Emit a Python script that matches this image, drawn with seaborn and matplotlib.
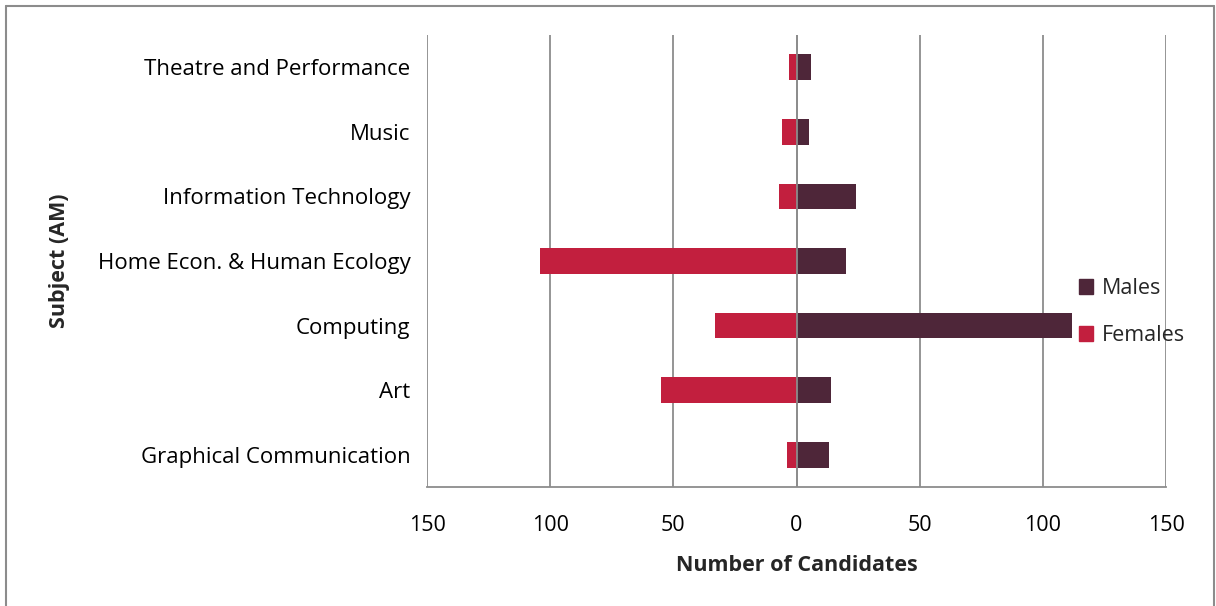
import seaborn as sns
import matplotlib.pyplot as plt
import matplotlib.ticker as mticker
from matplotlib.lines import Line2D
from matplotlib.patches import Patch
import pandas as pd

# dados (de cima para baixo)
subjects = ['Theatre and Performance', 'Music', 'Information Technology',
            'Home Econ. & Human Ecology', 'Computing', 'Art',
            'Graphical Communication']
males = [6, 5, 24, 20, 112, 14, 13]
females = [3, 6, 7, 104, 33, 55, 4]

cor_m = '#4E2639'
cor_f = '#C21F3E'

sns.set_theme(style='white')
plt.rcParams['font.family'] = ['Open Sans', 'DejaVu Sans']

df = pd.DataFrame({'subject': subjects, 'Males': males,
                   'Females': [-v for v in females]})

fig = plt.figure(figsize=(12.16, 6.06), dpi=100)
ax = fig.add_axes([427 / 1216, 1 - 487 / 606, (1166 - 427) / 1216, (487 - 35) / 606])

sns.barplot(data=df, y='subject', x='Males', order=subjects, color=cor_m,
            width=0.4, saturation=1, ax=ax, orient='h', linewidth=0)
sns.barplot(data=df, y='subject', x='Females', order=subjects, color=cor_f,
            width=0.4, saturation=1, ax=ax, orient='h', linewidth=0)

ax.set_xlim(-150, 150)
ax.set_ylim(6.5, -0.5)
ax.set_xticks([-150, -100, -50, 0, 50, 100, 150])
ax.xaxis.set_major_formatter(mticker.FuncFormatter(lambda v, p: f'{abs(int(v))}'))
ax.grid(axis='x', color='#8C8C8C', linewidth=1.3)
ax.set_axisbelow(True)
ax.axvline(0, color='#8C8C8C', linewidth=1.3, zorder=5)
for s in ['top', 'right', 'left']:
    ax.spines[s].set_visible(False)
ax.spines['bottom'].set_color('#8C8C8C')
ax.spines['bottom'].set_linewidth(1.3)
ax.tick_params(axis='x', labelsize=15.5, pad=20, length=0, colors='black')
ax.tick_params(axis='y', labelsize=16, pad=12, length=0, colors='black')

ax.set_xlabel('Number of Candidates', fontsize=15.5, fontweight='bold', labelpad=14)
ax.set_ylabel('Subject (AM)', fontsize=15.5, fontweight='bold')
ax.yaxis.set_label_coords((70 - 427) / (1166 - 427), 0.5)

handles = [Patch(color=cor_m, label='Males'), Patch(color=cor_f, label='Females')]
fig.legend(handles=handles, loc='center left', bbox_to_anchor=(1060 / 1216, 1 - 312 / 606),
           frameon=False, fontsize=15.5, handlelength=0.65, handleheight=0.65,
           handletextpad=0.4, labelspacing=1.2)

# moldura da figura
for xs, ys in [([6 / 1216, 6 / 1216], [0, 1 - 6 / 606]),
               ([6 / 1216, 1214 / 1216], [1 - 6 / 606, 1 - 6 / 606]),
               ([1214 / 1216, 1214 / 1216], [0, 1 - 6 / 606])]:
    fig.add_artist(Line2D(xs, ys, transform=fig.transFigure, color='#8C8C8C', linewidth=1.5))

fig.savefig('out.png', dpi=100)
